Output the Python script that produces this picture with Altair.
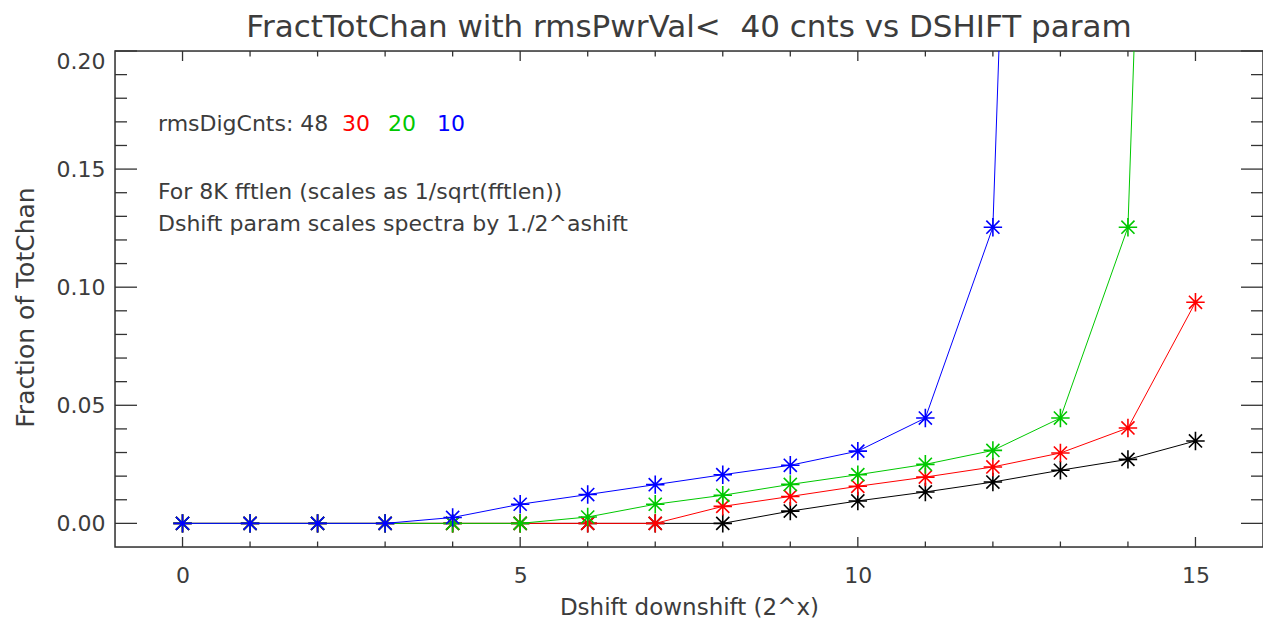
import altair as alt
import pandas as pd

# ---------------- data ----------------
dshift = [0, 1, 2, 3, 4, 5, 6, 7, 8, 9, 10, 11, 12, 13, 14, 15]
rms48 = [0, 0, 0, 0, 0, 0, 0, 0, 0, 0.0052, 0.0095, 0.0133, 0.0175, 0.0225, 0.0271, 0.0349]
rms30 = [0, 0, 0, 0, 0, 0, 0, 0, 0.0072, 0.0114, 0.0157, 0.0196, 0.0239, 0.0298, 0.0404, 0.0936]
rms20 = [0, 0, 0, 0, 0, 0, 0.0027, 0.0081, 0.0119, 0.0165, 0.0206, 0.0250, 0.0309, 0.0446, 0.1254, 0.96]
rms10 = [0, 0, 0, 0, 0.0025, 0.0081, 0.0122, 0.0164, 0.0206, 0.0246, 0.0306, 0.0446, 0.1254, 0.96]

series_names = ["48", "30", "20", "10"]
series_values = [rms48, rms30, rms20, rms10]
series_colors = ["#000000", "#ff0000", "#00c800", "#0000ff"]

x_major = [0, 5, 10, 15]
x_minor = [1, 2, 3, 4, 6, 7, 8, 9, 11, 12, 13, 14]
y_major = [0.0, 0.05, 0.10, 0.15, 0.20]
y_minor = [0.01, 0.02, 0.03, 0.04, 0.06, 0.07, 0.08, 0.09,
           0.11, 0.12, 0.13, 0.14, 0.16, 0.17, 0.18, 0.19]

title_text = "FractTotChan with rmsPwrVal<\u00a0\u00a040 cnts vs DSHIFT param"
x_title = "Dshift downshift (2^x)"
y_title = "Fraction of TotChan"
legend_label = "rmsDigCnts: 48"
note_lines = ["For 8K fftlen (scales as 1/sqrt(fftlen))",
              "Dshift param scales spectra by 1./2^ashift"]

# ---------------- style ----------------
W, H = 1148, 496
FONT = "DejaVu Sans"
TXT = "#3c3c3c"
FRAME = "#333333"
STAR = "M-1,0L1,0M0,-1L0,1M-0.71,-0.71L0.71,0.71M-0.71,0.71L0.71,-0.71"

xs = alt.Scale(domain=[-1, 16], nice=False, zero=False)
ys = alt.Scale(domain=[-0.01, 0.20], nice=False, zero=False)

xaxis = alt.Axis(values=x_major, ticks=False, domain=False, grid=False,
                 labelFontSize=22, labelPadding=18, labelColor=TXT, labelFont=FONT,
                 title=x_title, titleFontSize=23, titleFont=FONT, titleFontWeight="normal",
                 titleColor=TXT, titleBaseline="alphabetic", titleY=67, titleX=W / 2)
yaxis = alt.Axis(values=y_major, format=".2f", ticks=False, domain=False, grid=False,
                 labelFontSize=22, labelPadding=10, labelColor=TXT, labelFlush=True,
                 labelFont=FONT,
                 title=y_title, titleFontSize=25, titleFont=FONT, titleFontWeight="normal",
                 titleColor=TXT, titleAngle=270, titleBaseline="alphabetic",
                 titleX=-82, titleY=H / 2 + 8, titleAlign="center")

X = alt.X("x:Q", scale=xs, axis=xaxis)
Y = alt.Y("y:Q", scale=ys, axis=yaxis)

layers = []

# frame
layers.append(alt.Chart(pd.DataFrame({"f": [0]})).mark_rect(
    filled=False, stroke=FRAME, strokeWidth=1.5).encode(
    x=alt.value(0), x2=alt.value(W), y=alt.value(0), y2=alt.value(H)))

# tick marks (inside the frame, all four sides)
xmaj = pd.DataFrame({"x": x_major})
xmin = pd.DataFrame({"x": x_minor})
ymaj = pd.DataFrame({"y": y_major})
ymin = pd.DataFrame({"y": y_minor})
tk = dict(color=FRAME, strokeWidth=1.3)
layers += [
    alt.Chart(xmaj).mark_rule(**tk).encode(x=X, y=alt.value(H), y2=alt.value(H - 10)),
    alt.Chart(xmin).mark_rule(**tk).encode(x=X, y=alt.value(H), y2=alt.value(H - 5.5)),
    alt.Chart(xmaj).mark_rule(**tk).encode(x=X, y=alt.value(0), y2=alt.value(10)),
    alt.Chart(xmin).mark_rule(**tk).encode(x=X, y=alt.value(0), y2=alt.value(5.5)),
    alt.Chart(ymaj).mark_rule(**tk).encode(y=Y, x=alt.value(0), x2=alt.value(22)),
    alt.Chart(ymin).mark_rule(**tk).encode(y=Y, x=alt.value(0), x2=alt.value(12)),
    alt.Chart(ymaj).mark_rule(**tk).encode(y=Y, x=alt.value(W), x2=alt.value(W - 22)),
    alt.Chart(ymin).mark_rule(**tk).encode(y=Y, x=alt.value(W), x2=alt.value(W - 12)),
]

# series
for name, vals, col in zip(series_names, series_values, series_colors):
    df = pd.DataFrame({"x": dshift[:len(vals)], "y": vals, "series": name})
    base = alt.Chart(df).encode(x=X, y=Y)
    layers.append(base.mark_line(color=col, strokeWidth=1, clip=True))
    layers.append(base.mark_point(shape=STAR, filled=False, color=col, size=340,
                                  strokeWidth=1.6, opacity=1, clip=True))

# annotations
def txt(s, x, y, color=TXT, size=22, align="left"):
    return alt.Chart(pd.DataFrame({"t": [s]})).mark_text(
        font=FONT, fontSize=size, align=align, baseline="alphabetic",
        color=color).encode(text="t:N", x=alt.value(x), y=alt.value(y))

layers.append(txt(title_text, W / 2, -14, size=31, align="center"))
layers.append(txt(legend_label, 43, 80))
layers.append(txt(series_names[1], 227, 80, series_colors[1]))
layers.append(txt(series_names[2], 273, 80, series_colors[2]))
layers.append(txt(series_names[3], 322, 80, series_colors[3]))
layers.append(txt(note_lines[0], 43, 148))
layers.append(txt(note_lines[1], 43, 180))

chart = alt.layer(*layers).properties(
    width=W, height=H,
    autosize=alt.AutoSizeParams(type="none"),
    padding={"left": 107, "top": 43, "right": 0, "bottom": 75},
).configure_view(stroke=None).configure(background="white")

chart.save("out.html", embed_options={"renderer": "svg", "actions": False})
